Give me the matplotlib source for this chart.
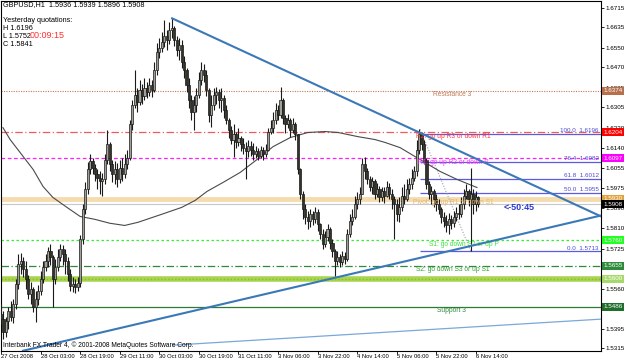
import matplotlib
matplotlib.use('Agg')
import matplotlib.pyplot as plt
import matplotlib.transforms as mtransforms

plt.rcParams['font.family'] = ['Liberation Sans', 'DejaVu Sans']

# hourly candles, GBPUSD H1, 27 Oct 11:00 .. 6 Nov 15:00
opens = [1.5456, 1.5435, 1.5382, 1.5427, 1.5468, 1.5443, 1.5497, 1.5579, 1.5661, 1.5673,
         1.5640, 1.5599, 1.5538, 1.5558, 1.5484, 1.5517, 1.5550, 1.5599, 1.5648, 1.5673,
         1.5714, 1.5689, 1.5599, 1.5648, 1.5689, 1.5722, 1.5702, 1.5673, 1.5620, 1.5570,
         1.5579, 1.5566, 1.5583, 1.5763, 1.5886, 1.5968, 1.6050, 1.6083, 1.6058, 1.6030,
         1.6017, 1.6001, 1.6009, 1.6091, 1.6153, 1.6071, 1.6030, 1.6050, 1.6009, 1.6058,
         1.6030, 1.6071, 1.6099, 1.6235, 1.6317, 1.6358, 1.6329, 1.6378, 1.6353, 1.6386,
         1.6370, 1.6399, 1.6378, 1.6460, 1.6534, 1.6550, 1.6575, 1.6599, 1.6583, 1.6624,
         1.6632, 1.6583, 1.6542, 1.6563, 1.6493, 1.6460, 1.6399, 1.6337, 1.6288, 1.6317,
         1.6358, 1.6419, 1.6460, 1.6440, 1.6378, 1.6276, 1.6317, 1.6358, 1.6370, 1.6337,
         1.6345, 1.6296, 1.6255, 1.6214, 1.6173, 1.6194, 1.6165, 1.6181, 1.6153, 1.6140,
         1.6124, 1.6148, 1.6132, 1.6112, 1.6124, 1.6107, 1.6132, 1.6112, 1.6132, 1.6206,
         1.6222, 1.6255, 1.6296, 1.6276, 1.6337, 1.6263, 1.6235, 1.6255, 1.6214, 1.6235,
         1.6194, 1.6050, 1.5948, 1.5886, 1.5853, 1.5837, 1.5866, 1.5845, 1.5874, 1.5825,
         1.5784, 1.5743, 1.5771, 1.5804, 1.5747, 1.5714, 1.5673, 1.5689, 1.5669, 1.5693,
         1.5681, 1.5784, 1.5837, 1.5853, 1.5907, 1.5927, 1.5948, 1.6071, 1.6042, 1.6009,
         1.5976, 1.6001, 1.5948, 1.5968, 1.5935, 1.5960, 1.5943, 1.5976, 1.5948, 1.5927,
         1.5907, 1.5866, 1.5894, 1.5943, 1.5927, 1.5968, 1.5989, 1.6017, 1.6042, 1.6132,
         1.6194, 1.6153, 1.6091, 1.5989, 1.5948, 1.5960, 1.5927, 1.5907, 1.5886, 1.5853,
         1.5837, 1.5820, 1.5845, 1.5829, 1.5853, 1.5870, 1.5866, 1.5907, 1.5943, 1.5960,
         1.5927, 1.5948, 1.5907, 1.5936]
highs = [1.5497, 1.5468, 1.5443, 1.5484, 1.5509, 1.5517, 1.5599, 1.5702, 1.5706, 1.5689,
         1.5673, 1.5615, 1.5587, 1.5566, 1.5550, 1.5574, 1.5632, 1.5673, 1.5702, 1.5730,
         1.5743, 1.5697, 1.5681, 1.5722, 1.5743, 1.5738, 1.5722, 1.5689, 1.5640, 1.5607,
         1.5599, 1.5607, 1.5779, 1.5907, 1.5997, 1.6079, 1.6112, 1.6099, 1.6071, 1.6050,
         1.6042, 1.6034, 1.6112, 1.6214, 1.6165, 1.6091, 1.6083, 1.6075, 1.6091, 1.6099,
         1.6112, 1.6132, 1.6255, 1.6337, 1.6460, 1.6386, 1.6419, 1.6403, 1.6427, 1.6411,
         1.6427, 1.6419, 1.6493, 1.6571, 1.6591, 1.6616, 1.6665, 1.6624, 1.6657, 1.6673,
         1.6640, 1.6599, 1.6591, 1.6583, 1.6517, 1.6468, 1.6427, 1.6358, 1.6353, 1.6386,
         1.6452, 1.6493, 1.6485, 1.6460, 1.6386, 1.6358, 1.6386, 1.6390, 1.6382, 1.6386,
         1.6358, 1.6317, 1.6263, 1.6230, 1.6235, 1.6206, 1.6222, 1.6189, 1.6181, 1.6165,
         1.6173, 1.6169, 1.6157, 1.6148, 1.6140, 1.6148, 1.6144, 1.6153, 1.6222, 1.6255,
         1.6288, 1.6325, 1.6317, 1.6390, 1.6345, 1.6276, 1.6280, 1.6263, 1.6263, 1.6247,
         1.6194, 1.6058, 1.5960, 1.5907, 1.5878, 1.5886, 1.5878, 1.5894, 1.5886, 1.5829,
         1.5804, 1.5796, 1.5825, 1.5812, 1.5763, 1.5722, 1.5714, 1.5702, 1.5714, 1.5710,
         1.5804, 1.5866, 1.5886, 1.5943, 1.5956, 1.5976, 1.6099, 1.6103, 1.6058, 1.6025,
         1.6021, 1.6009, 1.5993, 1.5984, 1.5976, 1.5976, 1.6001, 1.5993, 1.5968, 1.5943,
         1.5927, 1.5935, 1.5976, 1.5989, 1.6009, 1.6017, 1.6050, 1.6066, 1.6173, 1.6215,
         1.6206, 1.6173, 1.6099, 1.6001, 1.5984, 1.5968, 1.5948, 1.5927, 1.5894, 1.5874,
         1.5861, 1.5870, 1.5861, 1.5878, 1.5894, 1.5907, 1.5935, 1.5968, 1.5989, 1.5968,
         1.6058, 1.5968, 1.5960, 1.5939]
lows = [1.5415, 1.5353, 1.5361, 1.5394, 1.5427, 1.5419, 1.5476, 1.5558, 1.5620, 1.5607,
        1.5558, 1.5517, 1.5497, 1.5464, 1.5423, 1.5492, 1.5533, 1.5583, 1.5632, 1.5648,
        1.5656, 1.5484, 1.5579, 1.5632, 1.5673, 1.5656, 1.5620, 1.5591, 1.5550, 1.5546,
        1.5542, 1.5550, 1.5566, 1.5743, 1.5866, 1.5948, 1.6030, 1.6030, 1.6001, 1.5968,
        1.5948, 1.5939, 1.5989, 1.6071, 1.6042, 1.5997, 1.5989, 1.5976, 1.5993, 1.6001,
        1.6017, 1.6050, 1.6091, 1.6214, 1.6304, 1.6288, 1.6317, 1.6321, 1.6337, 1.6345,
        1.6353, 1.6349, 1.6370, 1.6440, 1.6509, 1.6534, 1.6554, 1.6542, 1.6567, 1.6591,
        1.6558, 1.6517, 1.6501, 1.6468, 1.6427, 1.6370, 1.6304, 1.6255, 1.6214, 1.6288,
        1.6345, 1.6399, 1.6411, 1.6353, 1.6247, 1.6226, 1.6296, 1.6321, 1.6304, 1.6288,
        1.6263, 1.6235, 1.6181, 1.6153, 1.6103, 1.6140, 1.6148, 1.6124, 1.6112, 1.6009,
        1.6103, 1.6107, 1.6091, 1.6099, 1.6087, 1.6099, 1.6091, 1.6103, 1.6124, 1.6194,
        1.6202, 1.6239, 1.6255, 1.6263, 1.6235, 1.6202, 1.6222, 1.6185, 1.6198, 1.6173,
        1.6030, 1.5927, 1.5845, 1.5825, 1.5804, 1.5812, 1.5820, 1.5829, 1.5796, 1.5763,
        1.5722, 1.5730, 1.5755, 1.5722, 1.5689, 1.5611, 1.5656, 1.5648, 1.5656, 1.5661,
        1.5673, 1.5771, 1.5820, 1.5845, 1.5886, 1.5907, 1.5948, 1.6009, 1.5989, 1.5960,
        1.5948, 1.5927, 1.5935, 1.5915, 1.5919, 1.5911, 1.5935, 1.5927, 1.5886, 1.5763,
        1.5837, 1.5833, 1.5878, 1.5907, 1.5919, 1.5948, 1.5968, 1.6001, 1.6025, 1.6112,
        1.6132, 1.6071, 1.5968, 1.5927, 1.5907, 1.5894, 1.5878, 1.5866, 1.5829, 1.5812,
        1.5792, 1.5784, 1.5804, 1.5812, 1.5837, 1.5845, 1.5853, 1.5886, 1.5927, 1.5902,
        1.5713, 1.5866, 1.5878, 1.5896]
closes = [1.5435, 1.5382, 1.5427, 1.5468, 1.5443, 1.5497, 1.5579, 1.5661, 1.5673, 1.5640,
          1.5599, 1.5538, 1.5558, 1.5484, 1.5517, 1.5550, 1.5599, 1.5648, 1.5673, 1.5714,
          1.5689, 1.5599, 1.5648, 1.5689, 1.5722, 1.5702, 1.5673, 1.5620, 1.5570, 1.5579,
          1.5566, 1.5583, 1.5763, 1.5886, 1.5968, 1.6050, 1.6083, 1.6058, 1.6030, 1.6017,
          1.6001, 1.6009, 1.6091, 1.6153, 1.6071, 1.6030, 1.6050, 1.6009, 1.6058, 1.6030,
          1.6071, 1.6099, 1.6235, 1.6317, 1.6358, 1.6329, 1.6378, 1.6353, 1.6386, 1.6370,
          1.6399, 1.6378, 1.6460, 1.6534, 1.6550, 1.6575, 1.6599, 1.6583, 1.6624, 1.6632,
          1.6583, 1.6542, 1.6563, 1.6493, 1.6460, 1.6399, 1.6337, 1.6288, 1.6317, 1.6358,
          1.6419, 1.6460, 1.6440, 1.6378, 1.6276, 1.6317, 1.6358, 1.6370, 1.6337, 1.6345,
          1.6296, 1.6255, 1.6214, 1.6173, 1.6194, 1.6165, 1.6181, 1.6153, 1.6140, 1.6124,
          1.6148, 1.6132, 1.6112, 1.6124, 1.6107, 1.6132, 1.6112, 1.6132, 1.6206, 1.6222,
          1.6255, 1.6296, 1.6276, 1.6337, 1.6263, 1.6235, 1.6255, 1.6214, 1.6235, 1.6194,
          1.6050, 1.5948, 1.5886, 1.5853, 1.5837, 1.5866, 1.5845, 1.5874, 1.5825, 1.5784,
          1.5743, 1.5771, 1.5804, 1.5747, 1.5714, 1.5673, 1.5689, 1.5669, 1.5693, 1.5681,
          1.5784, 1.5837, 1.5853, 1.5907, 1.5927, 1.5948, 1.6071, 1.6042, 1.6009, 1.5976,
          1.6001, 1.5948, 1.5968, 1.5935, 1.5960, 1.5943, 1.5976, 1.5948, 1.5927, 1.5907,
          1.5866, 1.5894, 1.5943, 1.5927, 1.5968, 1.5989, 1.6017, 1.6042, 1.6132, 1.6194,
          1.6153, 1.6091, 1.5989, 1.5948, 1.5960, 1.5927, 1.5907, 1.5886, 1.5853, 1.5837,
          1.5820, 1.5845, 1.5829, 1.5853, 1.5870, 1.5866, 1.5907, 1.5943, 1.5960, 1.5927,
          1.5948, 1.5907, 1.5936, 1.5908]

# moving average (bar index, price)
ma_bar = [0.8, 3.7, 7.7, 13, 17, 21, 26.7, 32, 38, 44, 50, 55.4, 65, 73, 78.5, 83.3,
          89.8, 96.7, 103.5, 110, 116.9, 124, 131, 136.3, 144.3, 151.2, 155.3, 161.3,
          169.4, 177.5, 184.4, 192.4]
ma_val = [1.6222, 1.6173, 1.6120, 1.6050, 1.5980, 1.5935, 1.5894, 1.5857, 1.5845, 1.5829,
          1.5820, 1.5833, 1.5866, 1.5894, 1.5923, 1.5960, 1.5997, 1.6038, 1.6091, 1.6144,
          1.6181, 1.6202, 1.6206, 1.6202, 1.6185, 1.6173, 1.6161, 1.6140, 1.6091, 1.6042,
          1.6009, 1.5976]

# trendlines (bar, price) pairs
trend_down = [(68.8, 1.6673), (242.6, 1.5857)]
trend_up = [(8.5, 1.5304), (242.6, 1.5861)]
trend_low = [(69.6, 1.5328), (242.6, 1.5435)]

# fibonacci from yesterday's high to today's low
fib_pct = ['100.0', '76.4', '61.8', '50.0', '0.0']
fib_price = [1.6196, 1.6082, 1.6012, 1.5955, 1.5713]
fib_start = 169.4
fib_base = [(169.4, 1.6215), (190.0, 1.5713)]

# pivot levels
piv_price = [1.6374, 1.6204, 1.6097, 1.5930, 1.5760, 1.5655, 1.5600, 1.5486]
piv_color = ['#c07a55', '#f05a5a', '#ff20ff', '#f5dcae', '#33ee33', '#2e8b3a', '#a8d44e', '#2e7a34']
piv_style = [(0, (1, 1.2)), (0, (6, 2, 1, 2)), (0, (3, 2)), '-', (0, (2, 2)),
             (0, (6, 2, 1, 2)), '-', '-']
piv_width = [0.8, 0.9, 0.9, 3.5, 0.9, 0.9, 4.0, 0.9]
piv_text = ['Resistance 3', 'R2: go up R3 or down R1', 'R1: go up R2 or down P',
            'Pivot: go up R1 or down S1', 'S1: go down S2 or up P', 'S2: go down S3 or up S1',
            None, 'Support 3']
piv_text_x = [174.7, 167.8, 168.6, 166.6, 173.0, 167.8, None, 176.3]
piv_text_color = ['#c07a55', '#ff3b3b', '#ff30ff', '#e2b56e', '#3fe03f', '#33a033', None, '#2e8b3a']

bid = 1.5908

tag_price = [1.6374, 1.6204, 1.6097, 1.5930, 1.5908, 1.5760, 1.5655, 1.5600, 1.5486]
tag_color = ['#b8704c', '#ff0000', '#ff00ff', '#e0a23a', '#000000', '#22ff22', '#2e8b3a', '#a6d86a', '#1f6e2b']

yticks = [1.6715, 1.6635, 1.6550, 1.6470, 1.6385, 1.6305, 1.6220, 1.6140, 1.6055, 1.5975,
          1.5890, 1.5810, 1.5725, 1.5645, 1.5560, 1.5480, 1.5395, 1.5315]
xtick_bars = [0, 16, 32, 48, 64, 80, 96, 112, 128, 144, 160, 176, 192]
xtick_labels = ['27 Oct 2008', '28 Oct 03:00', '28 Oct 19:00', '29 Oct 11:00', '30 Oct 03:00',
                '30 Oct 19:00', '31 Oct 11:00', '3 Nov 06:00', '3 Nov 22:00', '4 Nov 14:00',
                '5 Nov 06:00', '5 Nov 22:00', '6 Nov 14:00']

FS = 4.5
W, H = 625, 361

fig = plt.figure(figsize=(W / 100, H / 100), dpi=100)
fig.patch.set_facecolor('white')
ax = fig.add_axes([1 / W, 10 / H, 600 / W, 350 / H])
ax.set_xlim(0.04, 242.56)
ax.set_ylim(1.53040, 1.67425)

# pivot lines
for p, col, ls, lw in zip(piv_price, piv_color, piv_style, piv_width):
    ax.axhline(p, color=col, linestyle=ls, linewidth=lw, zorder=1)
ax.axhline(1.5600, color='#86bf34', linestyle=(0, (1, 1.5)), linewidth=1.0, zorder=1)
ax.axhline(bid, color='#c8c8c8', linewidth=0.8, zorder=1)

for p, t, x, col in zip(piv_price, piv_text, piv_text_x, piv_text_color):
    if t:
        ax.text(x, p - 0.0003, t, color=col, fontsize=FS + 0.3, ha='left', va='top', zorder=4)

# fibonacci
ax.hlines(fib_price, fib_start, 242.56, color='#5a5ae6', linewidth=0.9, zorder=2)
for pct, p in zip(fib_pct, fib_price):
    ax.text(241.6, p + 0.0002, f'{pct}  {p:.4f}', color='#4a4ad8', fontsize=FS,
            ha='right', va='bottom', zorder=4)
ax.plot([fib_base[0][0], fib_base[1][0]], [fib_base[0][1], fib_base[1][1]],
        color='#a0a0a0', linestyle=(0, (1, 1.5)), linewidth=0.8, zorder=2)

# moving average
ax.plot(ma_bar, ma_val, color='#4a4a4a', linewidth=0.8, zorder=2)

# candles
idx = list(range(len(closes)))
ax.vlines(idx, lows, highs, color='#1a1a1a', linewidth=0.8, zorder=3)
bottoms = [min(o, c) for o, c in zip(opens, closes)]
heights = [max(abs(c - o), 0.00006) for o, c in zip(opens, closes)]
fills = ['#a0a098' if c >= o else '#33332a' for o, c in zip(opens, closes)]
ax.bar(idx, heights, bottom=bottoms, width=0.86, color=fills, edgecolor='#1a1a1a',
       linewidth=0.5, zorder=3)

# trendlines
for (x0, y0), (x1, y1) in [trend_down, trend_up]:
    ax.plot([x0, x1], [y0, y1], color='#3b78b8', linewidth=1.5, zorder=4,
            solid_capstyle='butt')
ax.plot([trend_low[0][0], trend_low[1][0]], [trend_low[0][1], trend_low[1][1]],
        color='#7aa8d8', linewidth=0.9, zorder=4)

ax.text(203, 1.5894, '<-50:45', color='#2a3ad0', fontsize=6.5, fontweight='bold',
        ha='left', va='center', zorder=5)

# axes styling
for s in ax.spines.values():
    s.set_color('black')
    s.set_linewidth(0.8)
ax.yaxis.tick_right()
ax.set_yticks(yticks)
ax.set_yticklabels([f'{v:.4f}' for v in yticks])
ax.set_xticks(xtick_bars)
ax.set_xticklabels(xtick_labels, ha='left')
ax.tick_params(axis='y', direction='out', length=2.5, width=0.6, pad=1, labelsize=FS)
ax.tick_params(axis='x', direction='out', length=2, width=0.6, pad=0.3, labelsize=FS - 0.3)

# coloured price tags on the right axis
trans = mtransforms.blended_transform_factory(ax.transAxes, ax.transData)
for p, col in zip(tag_price, tag_color):
    ax.text(1.004, p, f'{p:.4f}', transform=trans, color='white', fontsize=FS,
            ha='left', va='center', zorder=6, clip_on=False,
            bbox=dict(facecolor=col, edgecolor='none', boxstyle='square,pad=0.25'))

# screen texts
def ftext(x, y, s, **kw):
    fig.text(x / W, 1 - y / H, s, ha='left', va='center', **kw)

ftext(3, 5, 'GBPUSD,H1  1.5936 1.5939 1.5896 1.5908', fontsize=FS + 0.7, color='black')
ftext(3, 20, 'Yesterday quotations:', fontsize=FS + 0.7, color='black')
ftext(3, 28, 'H 1.6196', fontsize=FS + 0.7, color='black')
ftext(3, 36, 'L 1.5752', fontsize=FS + 0.7, color='black')
ftext(3, 44, 'C 1.5841', fontsize=FS + 0.7, color='black')
ftext(30, 35, '00:09:15', fontsize=6.5, color='#ff3030')
ftext(3, 345, 'Interbank FX Trader 4, \u00a9 2001-2008 MetaQuotes Software Corp.',
      fontsize=FS + 0.3, color='black')

fig.savefig('out.png', dpi=100)
